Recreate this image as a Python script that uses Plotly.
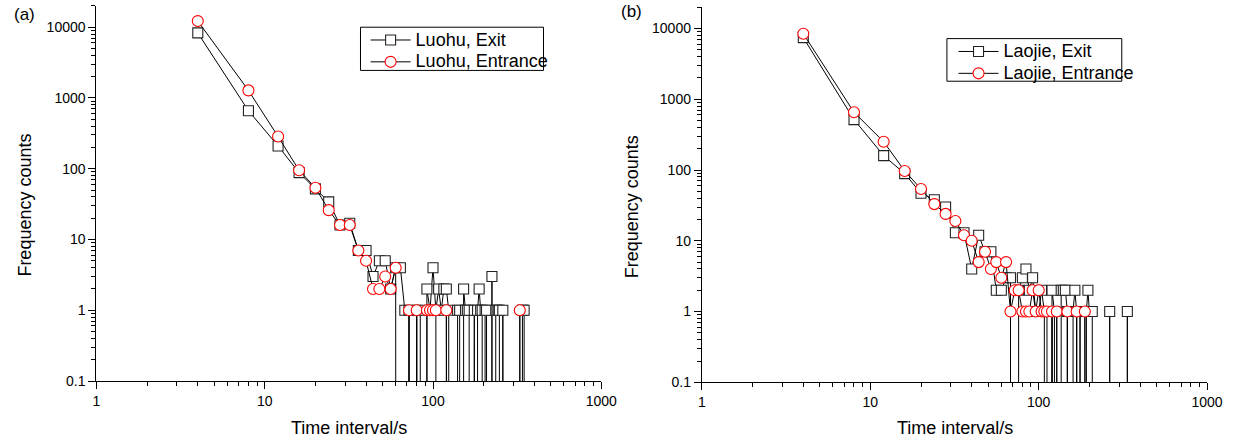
import plotly.graph_objects as go

# Time-interval bins (s)
bins = [4, 8, 12, 16, 20, 24, 28, 32, 36, 40,
        44, 48, 52, 56, 60, 64, 68, 72, 76, 80,
        84, 88, 92, 96, 100, 104, 108, 112, 116, 120,
        124, 128, 132, 136, 140, 144, 148, 152, 156, 160,
        164, 168, 172, 176, 180, 184, 188, 192, 196, 200,
        204, 208, 212, 216, 220, 224, 228, 232, 236, 240,
        244, 248, 252, 256, 260, 264, 268, 272, 276, 280,
        284, 288, 292, 296, 300, 304, 308, 312, 316, 320,
        324, 328, 332, 336, 340, 344, 348, 352]

# (a) Luohu
luohu_exit = [8300, 660, 210, 88, 52, 34, 16, 17, 7, 7,
              3, 5, 5, 2, 4, 4, 1, 1, 0, 1,
              1, 0, 2, 1, 4, 1, 2, 1, 2, 2,
              1, 0, 0, 0, 1, 1, 0, 2, 1, 1,
              1, 0, 0, 1, 0, 1, 2, 1, 1, 0,
              1, 1, 0, 0, 0, 3, 0, 0, 1, 1,
              1, 1, 0, 0, 1, 0, 0, 0, 0, 0,
              0, 0, 0, 0, 0, 0, 0, 0, 0, 0,
              0, 0, 0, 0, 1, 1, 1, 0]
luohu_entrance = [12200, 1280, 285, 95, 54, 26, 16, 16, 7, 5,
                  2, 2, 3, 2, 4, 0, 0, 1, 0, 1,
                  0, 0, 1, 1, 1, 1, 0, 0, 0, 1,
                  0, 0, 0, 0, 0, 0, 0, 0, 0, 0,
                  0, 0, 0, 0, 0, 0, 0, 0, 0, 0,
                  0, 0, 0, 0, 0, 0, 0, 0, 0, 0,
                  0, 0, 0, 0, 0, 0, 0, 0, 0, 0,
                  0, 0, 0, 0, 0, 0, 0, 0, 0, 0,
                  0, 1, 0, 0, 0, 0, 0, 0]

# (b) Laojie
laojie_exit = [7420, 516, 160, 89, 47, 38, 30, 13, 13, 4,
               12, 7, 7, 2, 2, 3, 3, 0, 2, 3,
               4, 2, 3, 1, 1, 2, 1, 0, 0, 2,
               1, 0, 0, 2, 2, 2, 1, 0, 0, 1,
               2, 1, 0, 1, 0, 0, 0, 1, 2, 1,
               1, 1, 0, 0, 0, 0, 0, 0, 0, 0,
               0, 0, 0, 0, 0, 1, 0, 0, 0, 0,
               0, 0, 0, 0, 0, 0, 0, 0, 0, 0,
               0, 0, 0, 1, 0, 0, 0, 0]
laojie_entrance = [8430, 655, 251, 97, 54, 33, 24, 19, 12, 10,
                   5, 7, 4, 5, 3, 5, 1, 2, 2, 1,
                   1, 1, 2, 1, 2, 1, 1, 1, 0, 1,
                   0, 1, 0, 0, 0, 0, 1, 0, 0, 0,
                   0, 1, 0, 0, 0, 0, 1, 0, 0, 0,
                   0, 0, 0, 0, 0, 0, 0, 0, 0, 0,
                   0, 0, 0, 0, 0, 0, 0, 0, 0, 0,
                   0, 0, 0, 0, 0, 0, 0, 0, 0, 0,
                   0, 0, 0, 0, 0, 0, 0, 0]

series_names = ["Luohu, Exit", "Luohu, Entrance", "Laojie, Exit", "Laojie, Entrance"]

x_tickvals = [1, 10, 100, 1000]
x_ticktext = ["1", "10", "100", "1000"]
y_tickvals = [0.1, 1, 10, 100, 1000, 10000]
y_ticktext = ["0.1", "1", "10", "100", "1000", "10000"]

FONT = "Liberation Sans, Arial, sans-serif"
FLOOR = 1e-300  # zero counts fall far below the log axis, like the original


def on_log(counts):
    return [c if c > 0 else FLOOR for c in counts]


def legend_label(name):
    return '<span style="font-size:18px">' + name + "</span>"


def exit_trace(name, counts, xa, ya, leg):
    return go.Scatter(
        x=bins, y=on_log(counts), mode="lines+markers", name=legend_label(name),
        xaxis=xa, yaxis=ya, legend=leg,
        line=dict(color="black", width=1),
        marker=dict(symbol="square", size=10, color="white",
                    line=dict(color="#222222", width=1.1)),
    )


def entrance_trace(name, counts, xa, ya, leg):
    return go.Scatter(
        x=bins, y=on_log(counts), mode="lines+markers", name=legend_label(name),
        xaxis=xa, yaxis=ya, legend=leg,
        line=dict(color="black", width=1),
        marker=dict(symbol="circle", size=11, color="white",
                    line=dict(color="#ff0000", width=1.1)),
    )


fig = go.Figure()
fig.add_trace(exit_trace(series_names[0], luohu_exit, "x", "y", "legend"))
fig.add_trace(entrance_trace(series_names[1], luohu_entrance, "x", "y", "legend"))
fig.add_trace(exit_trace(series_names[2], laojie_exit, "x2", "y2", "legend2"))
fig.add_trace(entrance_trace(series_names[3], laojie_entrance, "x2", "y2", "legend2"))

W, H = 1247, 448


def xaxis(domain, anchor):
    return dict(type="log", range=[0, 3], domain=domain, anchor=anchor,
                showline=True, linecolor="black", linewidth=1.3,
                ticks="outside", ticklen=7, tickwidth=1, tickcolor="black",
                tickmode="array", tickvals=x_tickvals, ticktext=x_ticktext,
                minor=dict(ticks="outside", ticklen=4, tickwidth=1,
                           tickcolor="black", dtick="D1", showgrid=False),
                showgrid=False, zeroline=False,
                tickfont=dict(family=FONT, size=14, color="black"))


def yaxis(domain, anchor):
    return dict(type="log", range=[-1, 4.301], domain=domain, anchor=anchor,
                showline=True, linecolor="black", linewidth=1.3,
                ticks="outside", ticklen=7, tickwidth=1, tickcolor="black",
                tickmode="array", tickvals=y_tickvals, ticktext=y_ticktext,
                minor=dict(ticks="outside", ticklen=4, tickwidth=1,
                           tickcolor="black", dtick="D1", showgrid=False),
                showgrid=False, zeroline=False,
                tickfont=dict(family=FONT, size=14, color="black"))


legend_common = dict(xanchor="left", yanchor="top", bgcolor="rgba(0,0,0,0)",
                     borderwidth=0, itemwidth=40, tracegroupgap=0,
                     font=dict(family=FONT, size=14.5, color="black"))

# legend frames (pixel boxes of the original)
frames = [(362.3, 27.7, 548.3, 71.7), (958.3, 39.3, 1136.0, 82.7)]

fig.update_layout(
    width=W, height=H,
    margin=dict(l=0, r=0, t=0, b=0),
    paper_bgcolor="white", plot_bgcolor="white",
    font=dict(family=FONT, color="black"),
    xaxis=xaxis([94 / W, 607 / W], "y"),
    yaxis=yaxis([1 - 388 / H, 1 - 6 / H], "x"),
    xaxis2=xaxis([709.3 / W, 1222.7 / W], "y2"),
    yaxis2=yaxis([1 - 389.3 / H, 1 - 7.3 / H], "x2"),
    legend=dict(x=367.5 / W, y=1 - 24.5 / H, **legend_common),
    legend2=dict(x=965 / W, y=1 - 36.2 / H, **legend_common),
    showlegend=True,
)

for (x0, y0, x1, y1) in frames:
    fig.add_shape(type="rect", xref="paper", yref="paper",
                  x0=x0 / W, x1=x1 / W, y0=1 - y1 / H, y1=1 - y0 / H,
                  line=dict(color="black", width=1), fillcolor="white",
                  layer="below")

annots = [
    dict(text="(a)", x=21 / W, y=1 - 15 / H, size=17, anchor="middle"),
    dict(text="(b)", x=637.5 / W, y=1 - 12 / H, size=17, anchor="middle"),
    dict(text="Time interval/s", x=350.5 / W, y=0.5 / H, size=18, anchor="bottom"),
    dict(text="Time interval/s", x=966 / W, y=0.5 / H, size=18, anchor="bottom"),
    dict(text="Frequency counts", x=21.7 / W, y=1 - 209 / H, size=18,
         anchor="middle", angle=-90),
    dict(text="Frequency counts", x=638.3 / W, y=1 - 211 / H, size=18,
         anchor="middle", angle=-90),
]
for a in annots:
    fig.add_annotation(text=a["text"], x=a["x"], y=a["y"], xref="paper", yref="paper",
                       xanchor="center", yanchor=a["anchor"], showarrow=False,
                       textangle=a.get("angle", 0),
                       font=dict(family=FONT, size=a["size"], color="black"))

fig.write_html("out.html", config={"displayModeBar": False})
